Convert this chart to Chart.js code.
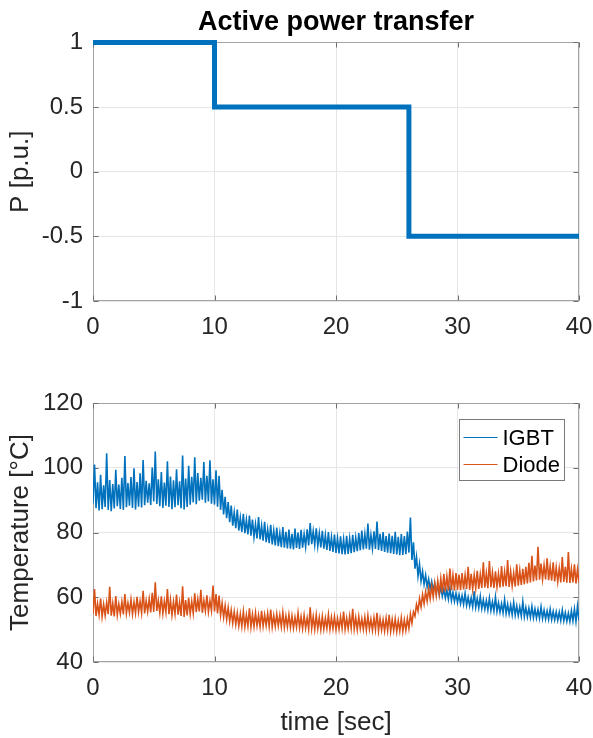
<!DOCTYPE html>
<html>
<head>
<meta charset="utf-8">
<script src="https://cdn.jsdelivr.net/npm/chart.js@4"></script>
<style>
  html, body { margin: 0; padding: 0; background: #fff; }
  #wrap { position: relative; width: 593px; height: 738px; overflow: hidden; }
  canvas { position: absolute; left: 0; }
  #power-chart { top: 0; }
  #temp-chart { top: 350px; }
</style>
</head>
<body>
<div id="wrap">
  <canvas id="power-chart" width="593" height="350"></canvas>
  <canvas id="temp-chart" width="593" height="388"></canvas>
</div>
<script>
"use strict";

// ---- Data ------------------------------------------------------------------

// power reference: value changes at each listed time (step-before)
const POWER_TIMES = [0, 10, 26, 40];
const POWER_VALUES = [1, 0.5, -0.5, -0.5];

// temperatures every 0.25 s: lower and upper edge of the noise band
const TIME_STEP = 0.25;

const IGBT_LOW = [
  // 0 .. 10 s
  89, 87.5, 86.8, 87.2, 87.9, 87.0, 86.6, 87.4, 88.1, 87.3,
  87.0, 87.8, 88.3, 87.6, 87.1, 88.0, 87.7, 88.4, 89.2, 88.5,
  89.6, 88.8, 88.1, 87.6, 88.3, 87.9, 87.2, 87.8, 88.4, 87.5,
  87.1, 87.9, 88.6, 89.3, 88.7, 89.8, 90.1, 89.2, 89.6, 88.9,
  88.6,
  // 10.25 .. 16 s
  88.0, 87.0, 85.6, 84.4, 83.2, 82.1, 81.3, 80.6, 80.2, 79.8, 79.4, 79.0,
  78.6, 78.2, 77.9, 77.5, 77.0, 76.7, 76.3, 76.0, 75.8, 75.5, 75.3, 75.1,
  // 16.25 .. 26 s
  75.0, 74.8, 75.2, 74.9, 75.3, 75.6, 76.0, 76.4, 76.2, 75.8, 75.4, 75.0, 74.6, 74.3, 74.0, 73.7,
  73.5, 73.3, 73.2, 73.4, 73.6, 73.9, 74.2, 74.5,
  74.8, 75.0, 74.7, 75.1, 74.9, 74.6, 74.3, 74.0, 73.8, 73.6, 73.4, 73.2, 73.0, 73.1, 73.3, 73.8,
  // 26.25 .. 30 s
  71.5, 68.8, 66.5, 65.0, 64.0, 63.2, 62.6, 62.0, 61.3, 60.8, 60.3, 59.8, 59.4, 59.0, 58.7, 58.4,
  // 30.25 .. 40 s
  58.0, 57.8, 57.5, 57.3, 57.0, 56.9, 56.7, 56.5,
  56.3, 56.1, 55.9, 55.8, 55.6, 55.4, 55.2, 55.0,
  54.8, 54.6, 54.5, 54.3, 54.2, 54.0, 53.9, 53.8,
  53.7, 53.6, 53.5, 53.4, 53.3, 53.2, 53.1, 53.0,
  52.9, 52.8, 52.7, 52.6, 52.5, 52.7, 52.5, 52.8,
];

const IGBT_HIGH = [
  101, 95.5, 97.8, 94.6, 104.5, 96.2, 95.0, 99.4, 94.8, 96.9,
  103.6, 95.3, 97.1, 99.8, 95.6, 98.3, 102.4, 96.0, 95.2, 100.1,
  105.0, 96.4, 98.7, 95.4, 102.0, 97.3, 96.1, 99.5, 95.8, 103.8,
  96.7, 100.6, 97.2, 103.2, 98.4, 96.9, 101.8, 97.5, 102.3, 96.4,
  99.2,
  97.5, 93.2, 91.0, 89.4, 88.3, 86.2, 87.1, 84.6, 85.8, 83.9, 85.2, 84.0,
  82.6, 84.8, 82.1, 83.3, 81.0, 82.4, 80.6, 81.5, 79.8, 81.7, 80.2, 80.9,
  79.6, 81.2, 80.0, 80.8, 79.5, 81.0, 82.9, 80.4, 81.3, 79.8, 80.5, 79.2, 80.1, 78.6, 79.4, 78.2,
  78.8, 77.9, 79.0, 78.1, 79.3, 78.4, 79.8, 80.6,
  79.5, 82.8, 79.2, 80.4, 83.4, 79.6, 80.1, 78.9, 79.7, 79.0, 80.2, 78.7, 79.5, 78.9, 80.3, 84.6,
  77.0, 72.5, 70.2, 68.0, 66.8, 65.6, 64.9, 64.2, 63.8, 63.3, 62.6, 62.2, 62.9, 61.5, 61.2, 60.8,
  60.5, 61.2, 60.0, 59.8, 61.8, 59.6, 60.3, 59.2,
  59.0, 59.7, 58.6, 60.1, 58.3, 58.0, 59.2, 57.8,
  57.6, 58.4, 57.3, 57.0, 58.6, 56.8, 56.6, 57.2,
  56.4, 56.2, 57.0, 56.0, 55.8, 56.3, 55.6, 55.5,
  55.4, 56.0, 55.2, 55.1, 55.8, 56.4, 57.2, 56.3,
];

const DIODE_LOW = [
  54.8, 54.2, 54.6, 54.0, 54.4, 54.8, 54.3, 54.1, 54.5, 54.9,
  54.7, 55.0, 55.3, 54.8, 55.1, 55.4, 55.2, 55.0, 55.6, 55.3,
  55.5, 55.8, 55.2, 55.0, 55.4, 54.8, 54.5, 54.9, 54.6, 54.2,
  53.9, 54.4, 54.8, 55.1, 55.4, 55.6, 55.2, 55.8, 55.5, 55.9,
  55.6,
  55.0, 54.5, 53.8, 53.2, 52.6, 52.0, 51.6, 51.2, 51.0, 50.9, 51.1, 50.8,
  51.0, 51.2, 50.9, 51.1, 51.3, 51.0, 50.8, 51.0, 51.2, 50.9, 50.7, 50.9,
  50.7, 50.5, 50.8, 50.6, 50.3, 50.5, 50.2, 50.4, 50.1, 50.3, 50.0, 50.2, 50.4, 50.1, 50.3, 50.0,
  50.2, 50.4, 50.1, 50.3, 50.5, 50.2, 50.0, 50.3,
  50.1, 49.9, 50.2, 49.8, 50.0, 49.7, 49.9, 49.6, 49.8, 49.5, 49.7, 49.4, 49.6, 49.5, 49.8, 50.4,
  52.0, 54.2, 55.8, 57.0, 58.0, 58.8, 59.5, 60.1, 60.6, 61.0, 61.4, 61.8, 62.0, 62.2, 62.1, 62.3,
  62.2, 62.4, 62.6, 62.3, 62.5, 62.8, 62.6, 62.9,
  63.0, 62.8, 63.1, 62.9, 63.2, 63.0, 63.3, 63.4,
  63.2, 63.5, 63.3, 63.6, 63.8, 64.0, 64.3, 64.6,
  64.9, 65.2, 65.4, 65.6, 65.5, 65.3, 65.1, 64.9,
  64.8, 64.6, 64.7, 64.5, 64.4, 64.6, 64.3, 64.5,
];

const DIODE_HIGH = [
  62.5, 58.0, 59.6, 57.8, 58.4, 63.2, 58.1, 60.4, 57.9, 58.6,
  61.0, 58.2, 59.3, 58.5, 60.1, 58.7, 62.0, 58.9, 59.5, 61.4,
  64.6, 59.0, 60.3, 58.8, 62.5, 59.2, 58.6, 60.8, 58.4, 63.4,
  59.1, 59.8, 58.7, 61.2, 59.4, 62.3, 59.0, 60.6, 58.9, 63.6,
  61.0,
  60.5, 58.2, 57.4, 56.8, 56.0, 55.5, 55.1, 54.8, 55.6, 54.5, 56.6, 54.7,
  55.2, 54.4, 55.8, 54.6, 55.0, 56.2, 54.3, 54.8, 54.5, 55.3, 54.2, 54.6,
  54.2, 53.8, 55.1, 53.9, 54.4, 53.6, 56.9, 54.0, 54.5, 53.7, 54.1, 53.5, 54.6, 53.8, 54.0, 53.4,
  53.9, 55.6, 53.5, 54.2, 56.4, 53.7, 54.0, 53.3,
  53.8, 54.3, 53.2, 53.6, 55.2, 53.4, 53.0, 53.5, 54.6, 53.1, 53.3, 52.8, 53.6, 53.0, 53.4, 54.8,
  55.5, 57.8, 59.6, 60.8, 61.7, 62.6, 63.4, 64.3, 65.0, 65.8, 67.2, 66.4, 68.9, 66.8, 67.5, 67.0,
  67.5, 66.8, 69.4, 67.2, 66.9, 68.2, 67.0, 70.8,
  67.4, 71.2, 67.6, 68.0, 67.3, 69.6, 67.8, 71.5,
  68.0, 67.5, 70.2, 68.3, 68.8, 69.4, 70.6, 72.8,
  69.8, 75.6, 70.4, 69.9, 72.0, 69.6, 70.8, 69.2,
  68.9, 72.4, 69.4, 74.0, 68.8, 70.2, 68.6, 73.0,
];

const X_TICKS = [0, 10, 20, 30, 40];
const POWER_TICKS = [-1, -0.5, 0, 0.5, 1];
const TEMP_TICKS = [40, 60, 80, 100, 120];

// ---- Styling ---------------------------------------------------------------

const FONT = "'Liberation Sans', Arial, Helvetica, sans-serif";
const BLUE = "#0072BD";
const ORANGE = "#D95319";
const GRID = "#e6e6e6";
const TEXT = "#262626";

Chart.defaults.font.family = FONT;
Chart.defaults.color = TEXT;

// MATLAB-style box round the axes, with short inward ticks on all four sides
const axisBox = {
  id: "axisBox",
  beforeDatasetsDraw(chart) {
    const { ctx, chartArea: a, scales: { x, y } } = chart;
    const L = Math.round(a.left) + 0.5, R = Math.round(a.right) - 0.5;
    const T = Math.round(a.top) + 0.5, B = Math.round(a.bottom) - 0.5;
    ctx.save();
    ctx.lineWidth = 1;
    ctx.strokeStyle = "#a3a3a3";
    ctx.strokeRect(L, T, R - L, B - T);
    ctx.beginPath();
    for (const t of x.ticks) {
      const px = Math.round(x.getPixelForValue(t.value)) + 0.5;
      ctx.moveTo(px, B); ctx.lineTo(px, B - 5);
      ctx.moveTo(px, T); ctx.lineTo(px, T + 5);
    }
    for (const t of y.ticks) {
      const py = Math.round(y.getPixelForValue(t.value)) + 0.5;
      ctx.moveTo(L, py); ctx.lineTo(L + 5, py);
      ctx.moveTo(R, py); ctx.lineTo(R - 5, py);
    }
    ctx.strokeStyle = "#6e6e6e";
    ctx.stroke();
    ctx.restore();
  },
};

// legend box in the upper right corner of the plot
const cornerLegend = {
  id: "cornerLegend",
  afterDatasetsDraw(chart) {
    const { ctx, chartArea: a } = chart;
    const w = 105, h = 61;
    const left = Math.round(a.right - 15 - w) + 0.5;
    const top = Math.round(a.top + 16) + 0.5;
    ctx.save();
    ctx.fillStyle = "#fff";
    ctx.fillRect(left, top, w, h);
    ctx.strokeStyle = "#7a7a7a";
    ctx.lineWidth = 1;
    ctx.strokeRect(left, top, w, h);
    ctx.font = `22px ${FONT}`;
    ctx.textBaseline = "middle";
    ctx.fillStyle = "#000";
    chart.data.datasets.forEach((ds, i) => {
      const yy = Math.round(top + 17 + i * 27) + 0.5;
      ctx.beginPath();
      ctx.moveTo(left + 4, yy);
      ctx.lineTo(left + 38, yy);
      ctx.strokeStyle = ds.borderColor;
      ctx.lineWidth = 1;
      ctx.stroke();
      ctx.fillText(ds.label, left + 43, yy + 1);
    });
    ctx.restore();
  },
};

function fixedTicks(values) {
  return (scale) => { scale.ticks = values.map((v) => ({ value: v })); };
}

const plainLabel = (v) => String(v);

function xScale(title, height) {
  return {
    type: "linear", min: 0, max: 40,
    afterBuildTicks: fixedTicks(X_TICKS),
    ticks: { font: { size: 24 }, color: TEXT, padding: 12, maxRotation: 0, autoSkip: false, callback: plainLabel },
    grid: { color: GRID, drawTicks: false },
    border: { display: false },
    title: title
      ? { display: true, text: title, font: { size: 26 }, color: TEXT, padding: { top: 0, bottom: 0 } }
      : { display: false },
    // keep only half of the last label as right margin (tick padding would add more)
    afterFit: (s) => { s.height = height; s.paddingRight = 14; s.paddingLeft = 0; },
  };
}

function yScale(title, min, max, ticks) {
  return {
    type: "linear", min, max,
    afterBuildTicks: fixedTicks(ticks),
    ticks: { font: { size: 24 }, color: TEXT, padding: 10, callback: plainLabel },
    grid: { color: GRID, drawTicks: false },
    border: { display: false },
    title: { display: true, text: title, font: { size: 26 }, color: TEXT, padding: { top: 5, bottom: 0 } },
    afterFit: (s) => { s.width = 93; },
  };
}

// ---- Active power ------------------------------------------------------------

new Chart(document.getElementById("power-chart"), {
  type: "line",
  data: {
    datasets: [{
      label: "P",
      data: POWER_TIMES.map((t, i) => ({ x: t, y: POWER_VALUES[i] })),
      borderColor: BLUE,
      borderWidth: 5,
      stepped: "before",
      pointRadius: 0,
      borderCapStyle: "butt",
      borderJoinStyle: "miter",
      clip: false,
    }],
  },
  options: {
    responsive: false,
    animation: false,
    layout: { padding: 0 },
    plugins: {
      legend: { display: false },
      tooltip: { enabled: false },
      title: {
        display: true,
        text: "Active power transfer",
        fullSize: false,
        color: "#000",
        font: { size: 27, weight: "bold" },
        padding: { top: 6, bottom: 4 },
      },
    },
    scales: {
      x: xScale(null, 49),
      y: yScale("P [p.u.]", -1, 1, POWER_TICKS),
    },
  },
  plugins: [axisBox],
});

// ---- Temperatures ------------------------------------------------------------

// alternate lower and upper edge so the thin line fills the noise band
function band(low, high) {
  const pts = [];
  low.forEach((lo, i) => {
    pts.push({ x: i * TIME_STEP, y: lo });
    pts.push({ x: i * TIME_STEP + TIME_STEP / 2, y: high[i] });
  });
  return pts;
}

const traceStyle = { borderWidth: 1.6, pointRadius: 0, tension: 0, fill: false };

new Chart(document.getElementById("temp-chart"), {
  type: "line",
  data: {
    datasets: [
      { label: "IGBT", data: band(IGBT_LOW, IGBT_HIGH), borderColor: BLUE, order: 1, ...traceStyle },
      { label: "Diode", data: band(DIODE_LOW, DIODE_HIGH), borderColor: ORANGE, order: 0, ...traceStyle },
    ],
  },
  options: {
    responsive: false,
    animation: false,
    layout: { padding: { left: 0, right: 0, top: 53, bottom: 0 } },
    plugins: { legend: { display: false }, tooltip: { enabled: false } },
    scales: {
      x: xScale("time [sec]", 76),
      y: yScale("Temperature [°C]", 40, 120, TEMP_TICKS),
    },
  },
  plugins: [axisBox, cornerLegend],
});
</script>
</body>
</html>
